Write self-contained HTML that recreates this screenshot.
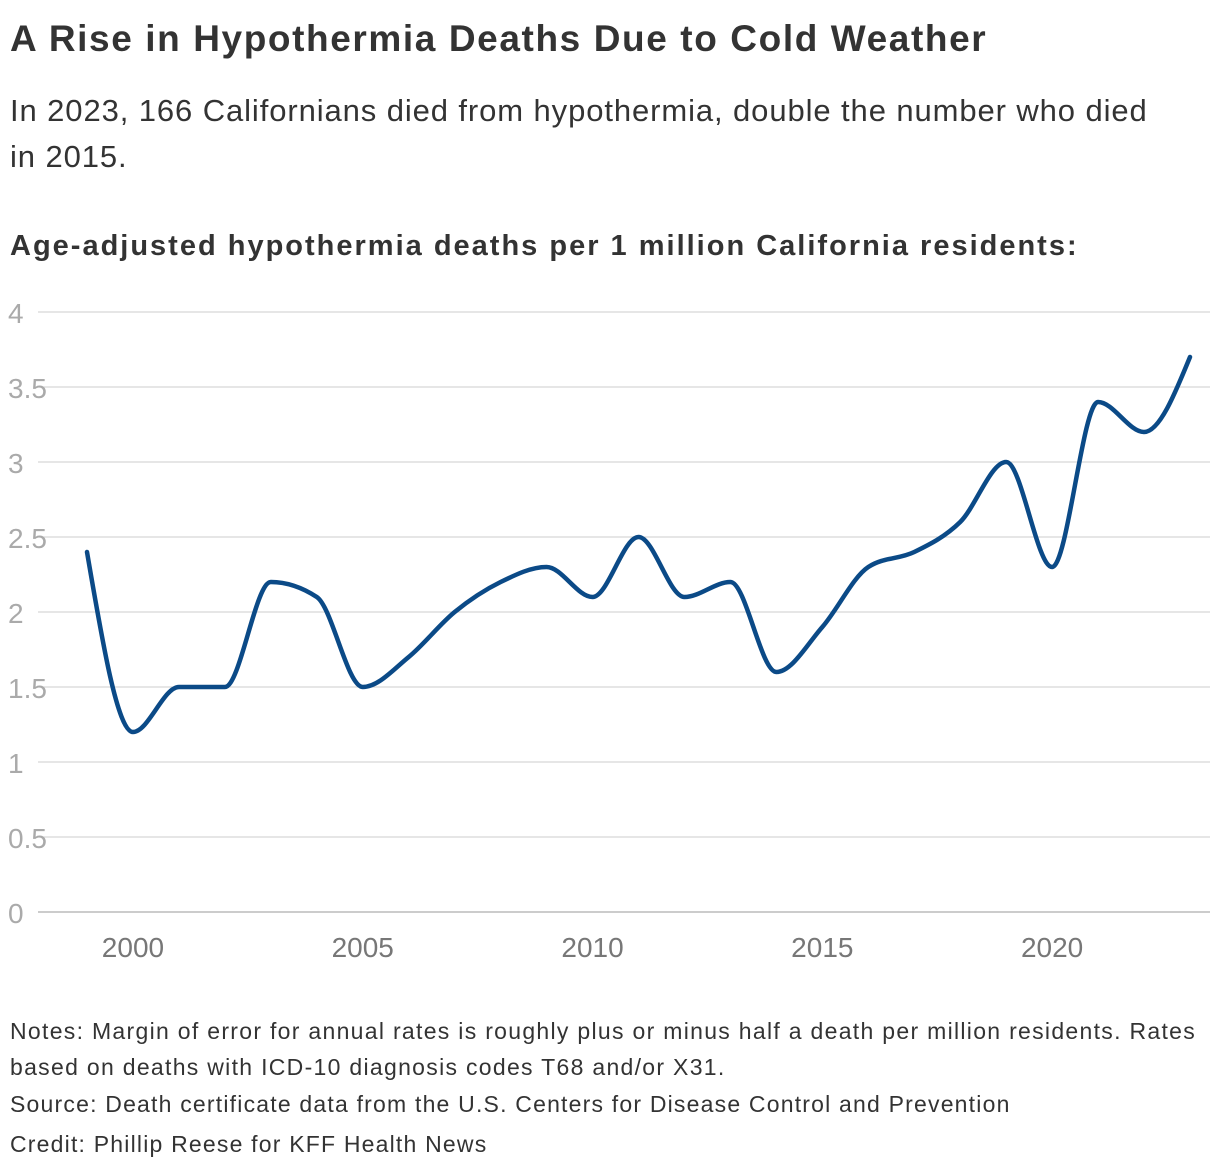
<!DOCTYPE html>
<html><head><meta charset="utf-8"><style>
body{margin:0;background:#fff;width:1220px;height:1172px;overflow:hidden;font-family:"Liberation Sans",sans-serif;color:#333}
.t{position:absolute;left:10px;white-space:nowrap}
</style></head><body>
<div class="t" style="top:18px;font-size:37px;font-weight:bold;color:#333;letter-spacing:1.6px">A Rise in Hypothermia Deaths Due to Cold Weather</div>
<div class="t" style="top:88px;font-size:31px;line-height:46px;color:#333;white-space:normal;width:1160px;letter-spacing:0.9px">In 2023, 166 Californians died from hypothermia, double the number who died<br>in 2015.</div>
<div class="t" style="top:230px;font-size:29px;font-weight:bold;color:#333;letter-spacing:2px">Age-adjusted hypothermia deaths per 1 million California residents:</div>
<svg id="chart" width="1220" height="1000" style="position:absolute;left:0;top:0"></svg>
<div class="t" style="top:1013px;font-size:23px;line-height:36px;white-space:normal;width:1205px;letter-spacing:1.3px">Notes: Margin of error for annual rates is roughly plus or minus half a death per million residents. Rates based on deaths with ICD-10 diagnosis codes T68 and/or X31.</div>
<div class="t" style="top:1091px;font-size:23px;letter-spacing:1.2px">Source: Death certificate data from the U.S. Centers for Disease Control and Prevention</div>
<div class="t" style="top:1131px;font-size:23px;letter-spacing:1.2px">Credit: Phillip Reese for KFF Health News</div>
<script>
const years=[1999,2000,2001,2002,2003,2004,2005,2006,2007,2008,2009,2010,2011,2012,2013,2014,2015,2016,2017,2018,2019,2020,2021,2022,2023];
const rates=[2.4,1.2,1.5,1.5,2.2,2.1,1.5,1.7,2.0,2.2,2.3,2.1,2.5,2.1,2.2,1.6,1.9,2.3,2.4,2.6,3.0,2.3,3.4,3.2,3.7];
const yTicks=[0,0.5,1,1.5,2,2.5,3,3.5,4];
const xTicks=[2000,2005,2010,2015,2020];
const svg=document.getElementById('chart');const NS='http://www.w3.org/2000/svg';
const x=v=>87+(v-1999)*(1190-87)/24;
const y=v=>912-v*150;
function mk(t,a,p){const e=document.createElementNS(NS,t);for(const k in a)e.setAttribute(k,a[k]);(p||svg).appendChild(e);return e;}
yTicks.forEach(v=>{
 const l=mk('line',{x1:38,x2:1210,y1:y(v),y2:y(v),stroke:v===0?'#999':'#ccc','stroke-width':1});
 
 
 const t=mk('text',{x:8,y:y(v)+11,'font-size':28,fill:'#aaa','font-family':'Liberation Sans, sans-serif'});t.textContent=v;
 
 
});
xTicks.forEach(v=>{
 const t=mk('text',{x:x(v),y:957,'font-size':28,fill:'#777','text-anchor':'middle','font-family':'Liberation Sans, sans-serif'});t.textContent=v;
 
 
});
const px=years.map(x),py=rates.map(y),n=px.length;
const d=[],m=[];for(let i=0;i<n-1;i++)d.push((py[i+1]-py[i])/(px[i+1]-px[i]));
for(let i=0;i<n;i++){if(i===0)m.push(d[0]);else if(i===n-1)m.push(d[n-2]);else{if(d[i-1]*d[i]<=0)m.push(0);else{const h0=px[i]-px[i-1],h1=px[i+1]-px[i];const p=(d[i-1]*h1+d[i]*h0)/(h0+h1);m.push((Math.sign(d[i-1])+Math.sign(d[i]))*Math.min(Math.abs(d[i-1]),Math.abs(d[i]),0.5*Math.abs(p)));}}}
m[0]=(3*d[0]-m[1])/2;m[n-1]=(3*d[n-2]-m[n-2])/2;
let path='M'+px[0]+','+py[0];
for(let i=0;i<n-1;i++){const h=(px[i+1]-px[i])/3;path+='C'+(px[i]+h)+','+(py[i]+h*m[i])+','+(px[i+1]-h)+','+(py[i+1]-h*m[i+1])+','+px[i+1]+','+py[i+1];}
const line=mk('path',{d:path,fill:'none',stroke:'#0b4a87','stroke-width':4.5,'stroke-linejoin':'round','stroke-linecap':'round'});


</script>
</body></html>
